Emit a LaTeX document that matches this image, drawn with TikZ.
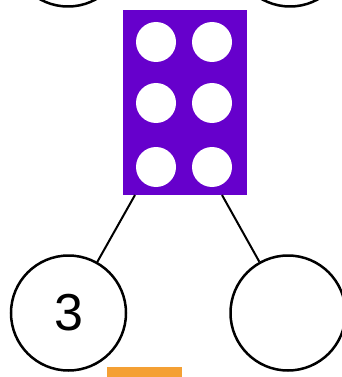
\documentclass[tikz,border=0pt]{standalone}
\usepackage{fontspec}
\setmainfont{Liberation Sans}
\definecolor{dicepurple}{RGB}{102,0,204}
\definecolor{barorange}{RGB}{244,160,52}
\begin{document}
\begin{tikzpicture}[x=1pt,y=-1pt,
	part/.style={circle,draw,line width=2.5pt,minimum size=115pt,inner sep=0pt,font=\fontsize{52}{60}\selectfont},
	pip/.style={circle,fill=white,minimum size=40pt,inner sep=0pt},
	link/.style={line width=2pt}]
	\useasboundingbox (0,0) rectangle (342,377);
	% circles cut off at the top
	\node[part] (topl) at (68,-51) {};
	\node[part] (topr) at (290,-51) {};
	% die with six pips
	\node[fill=dicepurple,minimum width=124pt,minimum height=185pt,inner sep=0pt] (die) at (185,102.5) {};
	\foreach \x in {156,212}
		\foreach \y in {42,103,167}
			\node[pip] (pip-\x-\y) at (\x,\y) {};
	% parts
	\node[part] (left) at (68.5,313) {3};
	\node[part] (right) at (288,313) {};
	\coordinate (dl) at (135,195);
	\coordinate (dr) at (222,195);
	\draw[link] (dl) -- (left);
	\draw[link] (dr) -- (right);
	% orange bar at the bottom
	\node[fill=barorange,minimum width=75pt,minimum height=20pt,inner sep=0pt,anchor=north west] (bar) at (107,367) {};
\end{tikzpicture}
\end{document}
